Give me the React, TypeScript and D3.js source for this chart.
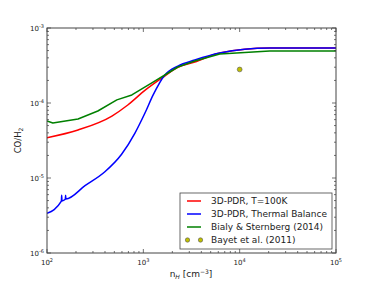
import { useMemo } from "react";
import * as d3 from "d3";

// n_H [cm^-3] and CO/H2
const redN = [100, 210, 472, 690, 1037, 1556, 2280, 3420, 6210, 20500, 100000];
const redV = [3.44e-5, 4.37e-5, 6.7e-5, 9.4e-5, 1.47e-4, 2.15e-4, 3.0e-4, 3.52e-4, 4.64e-4, 5.41e-4, 5.41e-4];

const blueN = [100, 141, 142, 143, 155, 156, 157, 248, 399, 595, 816, 1037, 1265, 1670, 2280, 3420, 6210, 20500, 100000];
const blueV = [3.38e-6, 4.9e-6, 5.9e-6, 4.95e-6, 5.2e-6, 5.9e-6, 5.25e-6, 7.89e-6, 1.21e-5, 2.07e-5, 3.94e-5, 7.3e-5, 1.28e-4, 2.36e-4, 3.11e-4, 3.74e-4, 4.64e-4, 5.41e-4, 5.41e-4];

const greenN = [100, 115, 210, 337, 531, 760, 1225, 1880, 2280, 3420, 6210, 20500, 100000];
const greenV = [5.75e-5, 5.41e-5, 6.12e-5, 7.82e-5, 1.1e-4, 1.28e-4, 1.85e-4, 2.59e-4, 3.02e-4, 3.63e-4, 4.5e-4, 4.93e-4, 4.93e-4];

const bayetN = [1e4];
const bayetV = [2.8e-4];

const xTickExp = [2, 3, 4, 5];
const yTickExp = [-3, -4, -5, -6];

const legendLabels = [
  "3D-PDR, T=100K",
  "3D-PDR, Thermal Balance",
  "Bialy & Sternberg (2014)",
  "Bayet et al. (2011)"
];

const W = 374;
const H = 282;
const m = { left: 47, right: 336, top: 28, bottom: 253 };
const FONT = "DejaVu Sans, sans-serif";

export default function App() {
  const x = d3.scaleLog().domain([1e2, 1e5]).range([m.left, m.right]);
  const y = d3.scaleLog().domain([1e-6, 1e-3]).range([m.bottom, m.top]);

  const series = useMemo(
    () => [
      { n: redN, v: redV, color: "#ff0000", curve: d3.curveMonotoneX },
      { n: blueN, v: blueV, color: "#0000ff", curve: d3.curveMonotoneX },
      { n: greenN, v: greenV, color: "#008000", curve: d3.curveLinear }
    ],
    []
  );

  const majorX = xTickExp.map(e => Math.pow(10, e));
  const minorX: number[] = [];
  for (let e = 2; e < 5; e++) for (let k = 2; k < 10; k++) minorX.push(k * Math.pow(10, e));
  const majorY = yTickExp.map(e => Math.pow(10, e));
  const minorY: number[] = [];
  for (let e = -6; e < -3; e++) for (let k = 2; k < 10; k++) minorY.push(k * Math.pow(10, e));

  const tick = "#333";

  return (
    <div style={{ position: "absolute", left: 0, top: 0 }}>
      <svg width={W} height={H} style={{ display: "block", background: "#fff" }} fontFamily={FONT}>
        <defs>
          <clipPath id="plot">
            <rect x={m.left} y={m.top} width={m.right - m.left} height={m.bottom - m.top} />
          </clipPath>
        </defs>

        <g clipPath="url(#plot)">
          {series.map((s, i) => {
            const line = d3
              .line<number>()
              .x((_, j) => x(s.n[j]))
              .y(d => y(d))
              .curve(s.curve);
            return (
              <path key={i} d={line(s.v) || ""} fill="none" stroke={s.color} strokeWidth={1.5} strokeLinejoin="round" />
            );
          })}
          {bayetN.map((n, i) => (
            <circle key={i} cx={x(n)} cy={y(bayetV[i])} r={2.4} fill="#bfbf00" stroke="#555" strokeWidth={0.6} />
          ))}
        </g>

        {/* ticks on all four sides, pointing inwards */}
        <g stroke={tick} strokeWidth={0.7}>
          {majorX.map((t, i) => (
            <g key={"mx" + i}>
              <line x1={x(t)} x2={x(t)} y1={m.bottom} y2={m.bottom - 4} />
              <line x1={x(t)} x2={x(t)} y1={m.top} y2={m.top + 4} />
            </g>
          ))}
          {minorX.map((t, i) => (
            <g key={"nx" + i}>
              <line x1={x(t)} x2={x(t)} y1={m.bottom} y2={m.bottom - 2} />
              <line x1={x(t)} x2={x(t)} y1={m.top} y2={m.top + 2} />
            </g>
          ))}
          {majorY.map((t, i) => (
            <g key={"my" + i}>
              <line x1={m.left} x2={m.left + 4} y1={y(t)} y2={y(t)} />
              <line x1={m.right} x2={m.right - 4} y1={y(t)} y2={y(t)} />
            </g>
          ))}
          {minorY.map((t, i) => (
            <g key={"ny" + i}>
              <line x1={m.left} x2={m.left + 2} y1={y(t)} y2={y(t)} />
              <line x1={m.right} x2={m.right - 2} y1={y(t)} y2={y(t)} />
            </g>
          ))}
        </g>

        <rect
          x={m.left}
          y={m.top}
          width={m.right - m.left}
          height={m.bottom - m.top}
          fill="none"
          stroke="#444"
          strokeWidth={1}
        />

        {/* tick labels */}
        {xTickExp.map(e => (
          <text key={"xl" + e} x={x(Math.pow(10, e))} y={265} textAnchor="middle" fontSize={7} fill="#222">
            10<tspan dy={-3.5} fontSize={5}>{e}</tspan>
          </text>
        ))}
        {yTickExp.map(e => (
          <text key={"yl" + e} x={m.left - 3} y={y(Math.pow(10, e)) + 3} textAnchor="end" fontSize={7} fill="#222">
            10<tspan dy={-3.5} fontSize={5}>{"-" + Math.abs(e)}</tspan>
          </text>
        ))}

        {/* axis labels */}
        <text x={191} y={277} textAnchor="middle" fontSize={9} fill="#222">
          n<tspan dy={2} fontSize={6} fontStyle="italic">H</tspan>
          <tspan dy={-2}>{"  [cm"}</tspan>
          <tspan dy={-3.5} fontSize={6}>{"\u22123"}</tspan>
          <tspan dy={3.5}>]</tspan>
        </text>
        <text transform={`translate(21,${(m.top + m.bottom) / 2}) rotate(-90)`} textAnchor="middle" fontSize={8.5} fill="#222">
          CO/H<tspan dy={2} fontSize={6}>2</tspan>
        </text>

        {/* legend */}
        <g>
          <rect x={180} y={193} width={152} height={56} fill="#fff" stroke="#444" strokeWidth={0.8} />
          {legendLabels.map((label, i) => {
            const ly = 201 + i * 13;
            return (
              <g key={label}>
                {i < 3 ? (
                  <line x1={187} x2={201} y1={ly} y2={ly} stroke={series[i].color} strokeWidth={1.5} />
                ) : (
                  <g>
                    <circle cx={187.5} cy={ly} r={2.2} fill="#bfbf00" stroke="#555" strokeWidth={0.6} />
                    <circle cx={200.5} cy={ly} r={2.2} fill="#bfbf00" stroke="#555" strokeWidth={0.6} />
                  </g>
                )}
                <text x={211} y={ly + 3.2} fontSize={9} fill="#222">
                  {label}
                </text>
              </g>
            );
          })}
        </g>
      </svg>
    </div>
  );
}
